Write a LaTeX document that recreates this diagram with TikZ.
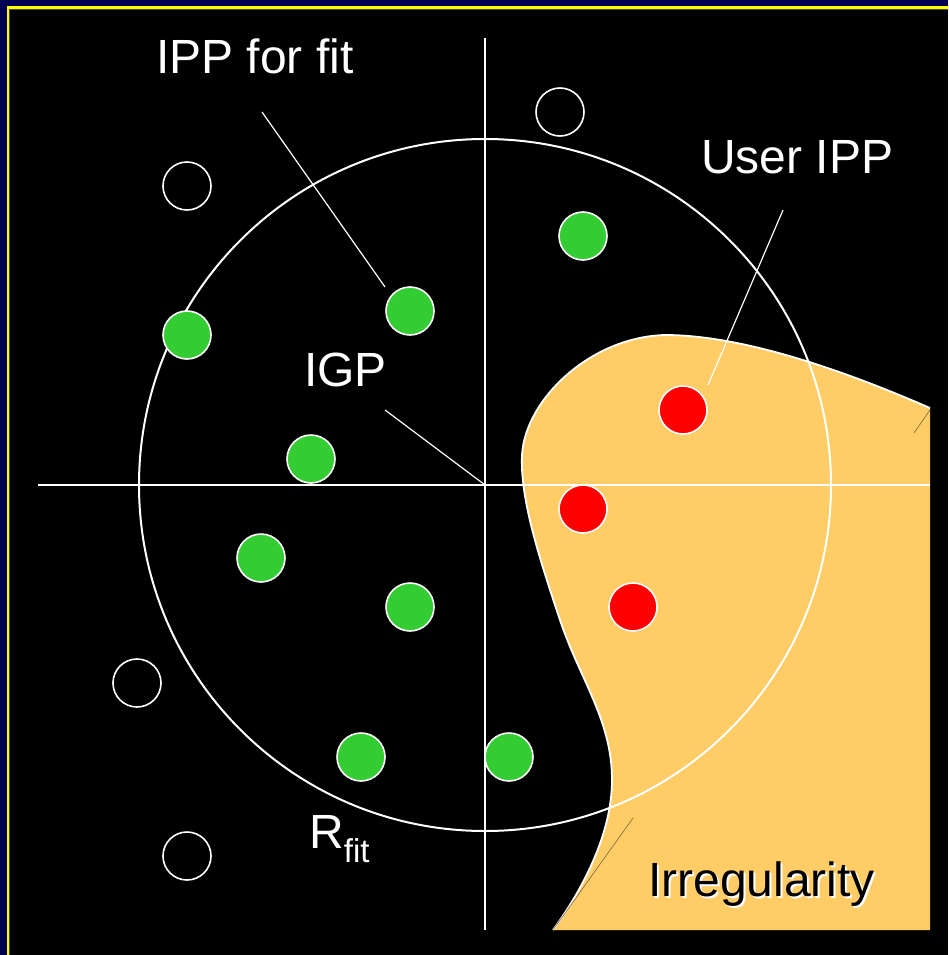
\documentclass[tikz,border=0pt]{standalone}
\usepackage{fontspec}
\setmainfont{Liberation Sans}
\definecolor{navybg}{RGB}{0,0,80}
\definecolor{frameyellow}{RGB}{255,255,0}
\definecolor{irrfill}{RGB}{255,204,102}
\definecolor{dotgreen}{RGB}{51,204,51}
\definecolor{dotred}{RGB}{255,0,0}
\definecolor{artline}{RGB}{120,100,60}
\tikzset{
  dotbase/.style={circle, draw=white, line width=1.6pt, minimum size=48pt, inner sep=0pt},
  greendot/.style={dotbase, fill=dotgreen},
  reddot/.style={dotbase, fill=dotred},
  opendot/.style={dotbase, fill=black},
  lbl/.style={text=white, inner sep=0pt, anchor=base west, font=\fontsize{48}{52}\selectfont},
  leader/.style={draw=white, line width=1.2pt},
  axis/.style={draw=white, line width=1.5pt},
}
\begin{document}
\begin{tikzpicture}[x=1pt,y=-1pt]
\useasboundingbox (0,0) rectangle (948,955);
% frame
\fill[navybg] (0,0) rectangle (948,955);
\fill[frameyellow] (6.5,6.5) rectangle (948,955);
\fill[black!70] (9,9) rectangle (948,955);
\fill[black] (10,10) rectangle (948,955);
% irregularity region
\fill[irrfill] (930,408) .. controls (820,360) and (730,335) .. (665,335)
  .. controls (590,337) and (525,400) .. (522,455)
  .. controls (520,500) and (540,560) .. (560,620)
  .. controls (580,680) and (612,720) .. (612,780)
  .. controls (612,840) and (575,900) .. (553,930)
  -- (930,930) -- cycle;
\draw[white, line width=1.8pt] (930,408) .. controls (820,360) and (730,335) .. (665,335)
  .. controls (590,337) and (525,400) .. (522,455)
  .. controls (520,500) and (540,560) .. (560,620)
  .. controls (580,680) and (612,720) .. (612,780)
  .. controls (612,840) and (575,900) .. (553,930);
\coordinate (a1) at (553,930); \coordinate (a2) at (633,818);
\coordinate (a3) at (914,433); \coordinate (a4) at (930,410);
\draw[artline, line width=0.6pt] (a1) -- (a2);
\draw[artline, line width=0.6pt] (a3) -- (a4);
% axes
\coordinate (xl) at (38,485); \coordinate (xr) at (930,485);
\coordinate (yt) at (485,38); \coordinate (yb) at (485,930);
\draw[axis] (xl) -- (xr);
\draw[axis] (yt) -- (yb);
% fit circle
\node[circle, draw=white, line width=2pt, minimum size=692pt, inner sep=0pt] (fitc) at (485,485) {};
% open circles
\node[opendot] (o1) at (560,112) {};
\node[opendot] (o2) at (187,186) {};
\node[opendot] (o3) at (137,683) {};
\node[opendot] (o4) at (187,856) {};
% green dots
\node[greendot] (g1) at (583,236) {};
\node[greendot] (g2) at (410,311) {};
\node[greendot] (g3) at (187,335) {};
\node[greendot] (g4) at (311,459) {};
\node[greendot] (g5) at (261,558) {};
\node[greendot] (g6) at (410,607) {};
\node[greendot] (g7) at (361,757) {};
\node[greendot] (g8) at (509,757) {};
% red dots
\node[reddot] (r1) at (683,410) {};
\node[reddot] (r2) at (583,509) {};
\node[reddot] (r3) at (633,607) {};
% labels
\node[lbl] (ippfit) at (156,74) {IPP for fit};
\node[lbl] (useripp) at (701,173) {User IPP};
\node[lbl] (igp) at (304,386) {IGP};
\node[lbl] (rfit) at (309,848) {R\raisebox{-14pt}{\fontsize{33}{36}\selectfont fit}};
\node[lbl, text=black] (irr) at (648,896) {\rlap{\kern2pt\raisebox{-2pt}{\color{white}Irregularity}}Irregularity};
% leaders
\coordinate (l1a) at (262,112); \coordinate (l1b) at (385,287);
\coordinate (l2a) at (783,210); \coordinate (l2b) at (708,385);
\coordinate (l3a) at (385,410); \coordinate (l3b) at (485,485);
\draw[leader] (l1a) -- (l1b);
\draw[leader] (l2a) -- (l2b);
\draw[leader] (l3a) -- (l3b);
\end{tikzpicture}
\end{document}
